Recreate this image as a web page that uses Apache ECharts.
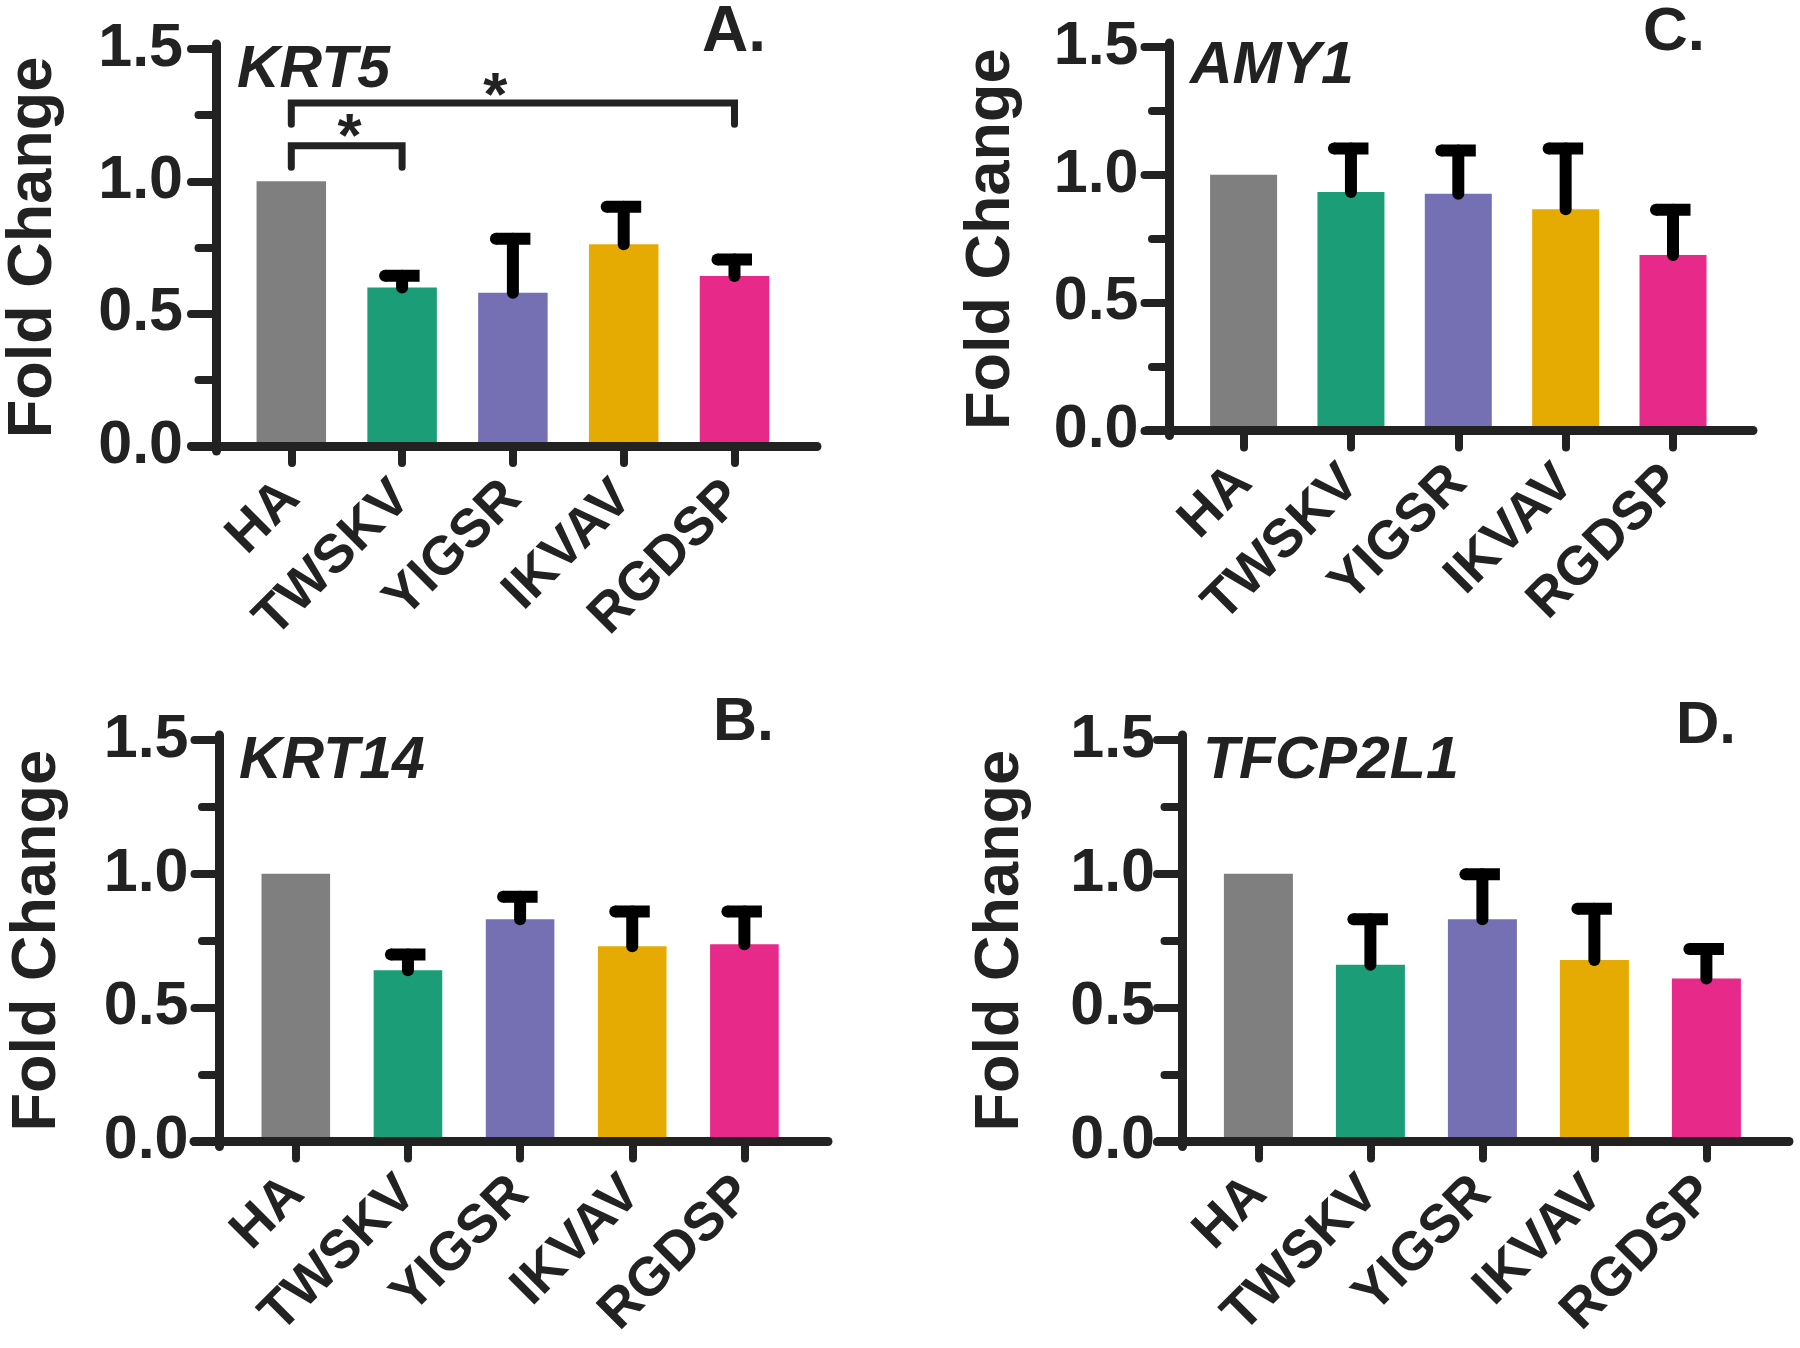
<!DOCTYPE html>
<html>
<head>
<meta charset="utf-8">
<script src="https://cdn.jsdelivr.net/npm/echarts@6/dist/echarts.min.js"></script>
<style>html,body{margin:0;padding:0;background:#fff}#c{width:1800px;height:1348px}</style>
</head>
<body>
<div id="c"></div>
<script>
// ---------------- data ----------------
const categories = ['HA', 'TWSKV', 'YIGSR', 'IKVAV', 'RGDSP'];
const yTickLabels = [0, 0.5, 1.0, 1.5];
const yMinorTicks = [0.25, 0.75, 1.25];
const catTicks = [0, 1, 2, 3, 4];

const krt5Mean  = [1.00, 0.599, 0.579, 0.762, 0.642];
const krt5Sem   = [0, 0.044, 0.204, 0.142, 0.063];
const amy1Mean  = [1.00, 0.933, 0.926, 0.865, 0.686];
const amy1Sem   = [0, 0.170, 0.169, 0.238, 0.177];
const krt14Mean = [1.00, 0.640, 0.830, 0.729, 0.737];
const krt14Sem  = [0, 0.059, 0.084, 0.130, 0.122];
const tfcpMean  = [1.00, 0.660, 0.830, 0.678, 0.609];
const tfcpSem   = [0, 0.170, 0.168, 0.192, 0.110];

// significance brackets (KRT5 panel)
const sigFrom  = [0, 0];
const sigTo    = [1, 4];
const sigBarY  = [1.134, 1.296];
const sigLegY  = [1.053, 1.216];
const sigStarX = [0.526, 1.842];
const sigStarY = [1.160, 1.314];

// ---------------- styles / layout ----------------
const barColors = ['#7f7f7f', '#1b9e77', '#7570b3', '#e6ab02', '#e7298a'];
const INK = '#222222';
const FONT = "'Liberation Sans', Arial, sans-serif";

const panels = [
  { gene: 'KRT5', letter: 'A.', mean: krt5Mean, sem: krt5Sem, sig: true,
    L: { axisX: 216, left: 192, right: 817, top: 44, bottom: 451, y0: 446, y15: 49, cat0: 291.3, step: 110.8, barW: 69.5,
         labelMargin: 33, nameGap: 151, geneX: 237, geneCap: 49, letterX: 702, letterCap: 9.5, letterFs: 64 } },
  { gene: 'AMY1', letter: 'C.', mean: amy1Mean, sem: amy1Sem, sig: false,
    L: { axisX: 1169.5, left: 1147, right: 1753, top: 43, bottom: 435.5, y0: 430.5, y15: 47, cat0: 1243.6, step: 107.35, barW: 67,
         labelMargin: 31, nameGap: 146, geneX: 1190, geneCap: 44.7, letterX: 1643, letterCap: 9.6, letterFs: 62 } },
  { gene: 'KRT14', letter: 'B.', mean: krt14Mean, sem: krt14Sem, sig: false,
    L: { axisX: 219.5, left: 194, right: 828, top: 735, bottom: 1146.5, y0: 1141.5, y15: 740, cat0: 295.8, step: 112.15, barW: 68.6,
         labelMargin: 31, nameGap: 150, geneX: 239, geneCap: 740, letterX: 713, letterCap: 701, letterFs: 61 } },
  { gene: 'TFCP2L1', letter: 'D.', mean: tfcpMean, sem: tfcpSem, sig: false,
    L: { axisX: 1182, left: 1158, right: 1789, top: 735, bottom: 1146.5, y0: 1141.5, y15: 740, cat0: 1258.4, step: 112.0, barW: 69,
         labelMargin: 27, nameGap: 150, geneX: 1203, geneCap: 740, letterX: 1676, letterCap: 704, letterFs: 60 } }
];

function errRender(params, api) {
  const x = api.value(0), m = api.value(1), t = api.value(2);
  if (!(t > m)) return null;
  const p0 = api.coord([x, m]), p1 = api.coord([x, t]);
  return { type: 'group', children: [
    { type: 'line', shape: { x1: p0[0], y1: p0[1], x2: p1[0], y2: p1[1] }, style: { stroke: '#000', lineWidth: 12, lineCap: 'round' } },
    { type: 'line', shape: { x1: p1[0] - 17, y1: p1[1], x2: p1[0] + 17.5, y2: p1[1] }, style: { stroke: '#000', lineWidth: 12, lineCap: 'butt' } },
    { type: 'circle', shape: { cx: p1[0] - 17, cy: p1[1], r: 6 }, style: { fill: '#000' } }
  ] };
}

function sigRender(params, api) {
  const a = api.coord([api.value(0), api.value(3)]);
  const b = api.coord([api.value(0), api.value(2)]);
  const c = api.coord([api.value(1), api.value(2)]);
  const d = api.coord([api.value(1), api.value(3)]);
  const s = api.coord([api.value(4), api.value(5)]);
  return { type: 'group', children: [
    { type: 'polyline', shape: { points: [a, b, c, d] }, style: { stroke: INK, fill: null, lineWidth: 7, lineCap: 'round', lineJoin: 'miter' } },
    { type: 'text', x: s[0], y: s[1], style: { text: '*', font: 'bold 62px ' + FONT, fill: INK, align: 'center', verticalAlign: 'middle' } }
  ] };
}

const grid = [], xAxis = [], yAxis = [], series = [], graphic = [];

panels.forEach((p, i) => {
  const L = p.L;
  const unit = (L.y0 - L.y15) / 1.5;
  const ymin = -(L.bottom - L.y0) / unit;
  const ymax = (L.y0 - L.top) / unit;
  const xmin = (L.left - L.cat0) / L.step;
  const xmax = (L.right - L.cat0) / L.step;

  grid.push({ left: L.left, top: L.top, width: L.right - L.left, height: L.bottom - L.top, outerBoundsMode: 'none', containLabel: false });

  xAxis.push({
    gridIndex: i, type: 'value', min: xmin, max: xmax, z: 5,
    axisLine: { show: true, onZero: true, lineStyle: { color: INK, width: 9, cap: 'round' } },
    axisTick: { show: true, customValues: catTicks, length: 17, lineStyle: { color: INK, width: 8, cap: 'round' } },
    axisLabel: { show: true, customValues: catTicks, formatter: v => categories[Math.round(v)], rotate: 45, margin: 39,
                 fontSize: 54, fontWeight: 'bold', fontFamily: FONT, color: INK },
    splitLine: { show: false }
  });

  yAxis.push({
    gridIndex: i, type: 'value', min: ymin, max: ymax, position: 'left', offset: -(L.axisX - L.left), z: 5,
    axisLine: { show: true, onZero: false, lineStyle: { color: INK, width: 9, cap: 'round' } },
    axisTick: { show: true, customValues: yTickLabels, length: 25, lineStyle: { color: INK, width: 8, cap: 'round' } },
    axisLabel: { show: true, customValues: yTickLabels, formatter: v => v.toFixed(1), margin: L.labelMargin,
                 fontSize: 61, fontWeight: 'bold', fontFamily: FONT, color: INK },
    splitLine: { show: false },
    name: 'Fold Change', nameLocation: 'middle', nameGap: L.nameGap, nameMoveOverlap: false,
    nameTextStyle: { fontSize: 63, fontWeight: 'bold', fontFamily: FONT, color: INK }
  });
  yAxis.push({
    gridIndex: i, type: 'value', min: ymin, max: ymax, position: 'left', offset: -(L.axisX - L.left), z: 5,
    axisLine: { show: false, onZero: false },
    axisTick: { show: true, customValues: yMinorTicks, length: 17.5, lineStyle: { color: INK, width: 8, cap: 'round' } },
    axisLabel: { show: false },
    splitLine: { show: false }
  });

  series.push({
    type: 'bar', xAxisIndex: i, yAxisIndex: i * 2, barWidth: L.barW, z: 2,
    data: p.mean.map((v, k) => ({ value: [k, v], itemStyle: { color: barColors[k] } }))
  });
  series.push({
    type: 'custom', xAxisIndex: i, yAxisIndex: i * 2, z: 4, renderItem: errRender,
    encode: { x: 0, y: [1, 2] },
    data: p.mean.map((v, k) => [k, v, v + p.sem[k]])
  });
  if (p.sig) {
    series.push({
      type: 'custom', xAxisIndex: i, yAxisIndex: i * 2, z: 4, renderItem: sigRender,
      encode: { x: [0, 1, 4], y: [2, 3, 5] },
      data: sigFrom.map((f, k) => [f, sigTo[k], sigBarY[k], sigLegY[k], sigStarX[k], sigStarY[k]])
    });
  }

  const geneFs = 59;
  graphic.push({ type: 'text', x: L.geneX, y: L.geneCap - 0.13 * geneFs,
    style: { text: p.gene, font: 'italic bold ' + geneFs + 'px ' + FONT, fill: INK, align: 'left', verticalAlign: 'top' } });
  graphic.push({ type: 'text', x: L.letterX, y: L.letterCap - 0.13 * L.letterFs,
    style: { text: p.letter, font: 'bold ' + L.letterFs + 'px ' + FONT, fill: INK, align: 'left', verticalAlign: 'top' } });
});

const chart = echarts.init(document.getElementById('c'), null, { renderer: 'canvas' });
chart.setOption({
  backgroundColor: '#ffffff',
  animation: false,
  grid, xAxis, yAxis, series, graphic
});
</script>
</body>
</html>
